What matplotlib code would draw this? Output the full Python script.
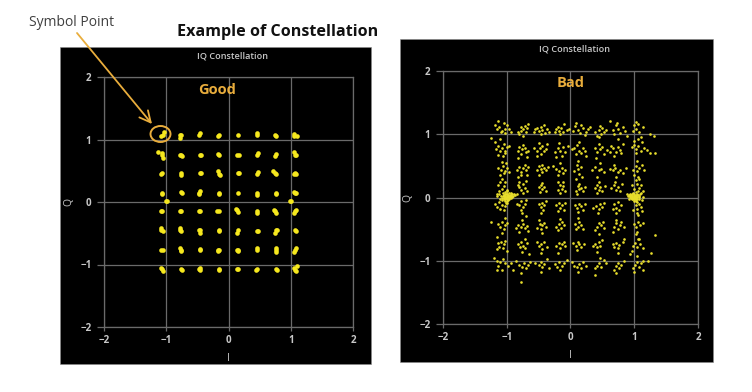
"""Good and bad IQ constellation examples, two dark scope panels side by side."""
import matplotlib.pyplot as plt
from matplotlib.patches import Ellipse, Rectangle

W, H = 752, 392
TICKS = [-2, -1, 0, 1, 2]
ORANGE = '#e9ad3c'
GRID = '#6a6a6a'
LIGHT = '#c8c8c8'

good_points = [
    # q ~ 1.07
    (-1.08, 1.06), (-1.06, 1.08), (-1.04, 1.12), (-0.78, 1.07), (-0.76, 1.08), (-0.78, 1.03),
    (-0.47, 1.07), (-0.45, 1.11), (-0.17, 1.06), (-0.15, 1.08), (0.15, 1.08), (0.46, 1.08), (0.45, 1.10),
    (0.75, 1.08), (0.77, 1.05), (1.06, 1.09), (1.05, 1.06), (1.10, 1.06),
    # q ~ 0.76
    (-1.07, 0.75), (-1.07, 0.79), (-1.06, 0.71), (-1.13, 0.80), (-0.76, 0.76), (-0.78, 0.75), (-0.75, 0.73),
    (-0.46, 0.76), (-0.44, 0.76), (-0.15, 0.76), (-0.17, 0.77), (0.14, 0.76), (0.17, 0.75),
    (0.46, 0.75), (0.47, 0.78), (0.76, 0.77), (0.75, 0.74), (1.07, 0.75), (1.09, 0.76), (1.05, 0.80),
    # q ~ 0.46
    (-1.07, 0.46), (-1.09, 0.45), (-0.77, 0.46), (-0.77, 0.43), (-0.46, 0.46), (-0.44, 0.46),
    (-0.16, 0.45), (-0.17, 0.49), (-0.14, 0.43), (0.15, 0.46), (0.17, 0.46), (0.45, 0.45), (0.48, 0.48),
    (0.77, 0.45), (0.75, 0.47), (0.71, 0.50), (1.07, 0.47), (1.05, 0.45), (1.09, 0.45),
    # q ~ 0.15
    (-1.07, 0.15), (-1.07, 0.13), (-0.77, 0.16), (-0.75, 0.15), (-0.47, 0.15), (-0.45, 0.17), (-0.48, 0.13),
    (-0.16, 0.15), (-0.15, 0.13), (0.15, 0.15), (0.46, 0.15), (0.46, 0.12), (0.76, 0.15), (0.76, 0.13),
    (1.07, 0.15), (1.05, 0.16), (1.09, 0.15),
    # on the Q = 0 line
    (-1.00, 0.01), (-0.99, 0.02), (0.99, 0.02), (1.01, 0.01),
    # q ~ -0.15
    (-1.08, -0.15), (-1.07, -0.14), (-0.78, -0.14), (-0.76, -0.15), (-0.47, -0.14), (-0.45, -0.14),
    (-0.16, -0.14), (-0.18, -0.14), (0.13, -0.13), (0.15, -0.16), (0.12, -0.11),
    (0.46, -0.14), (0.46, -0.17), (0.75, -0.14), (0.77, -0.17), (0.73, -0.12),
    (1.07, -0.14), (1.06, -0.17), (1.08, -0.13),
    # q ~ -0.46
    (-1.08, -0.45), (-1.06, -0.47), (-1.09, -0.42), (-0.78, -0.45), (-0.76, -0.46), (-0.78, -0.42),
    (-0.47, -0.45), (-0.45, -0.45), (-0.46, -0.49), (-0.16, -0.46), (-0.16, -0.44),
    (0.15, -0.45), (0.13, -0.49), (0.46, -0.46), (0.47, -0.46), (0.76, -0.45), (0.75, -0.49), (0.78, -0.44),
    (1.07, -0.45), (1.09, -0.47),
    # q ~ -0.77
    (-1.08, -0.76), (-1.05, -0.77), (-0.77, -0.76), (-0.76, -0.78), (-0.78, -0.73),
    (-0.46, -0.77), (-0.46, -0.75), (-0.17, -0.77), (-0.15, -0.76), (-0.17, -0.79),
    (0.14, -0.77), (0.16, -0.76), (0.15, -0.79), (0.46, -0.76), (0.46, -0.74), (0.76, -0.77), (0.76, -0.80),
    (0.77, -0.74), (1.07, -0.77), (1.08, -0.74), (1.06, -0.80),
    # q ~ -1.07
    (-1.09, -1.05), (-1.07, -1.07), (-1.06, -1.11), (-0.77, -1.07), (-0.75, -1.08),
    (-0.47, -1.07), (-0.45, -1.05), (-0.46, -1.08), (-0.16, -1.07), (-0.16, -1.09),
    (0.14, -1.07), (0.16, -1.07), (0.46, -1.07), (0.44, -1.08), (0.76, -1.07), (0.78, -1.09),
    (1.07, -1.08), (1.05, -1.06), (1.08, -1.10), (1.10, -1.03),
]

bad_points = [
    # top row
    (-1.14, 1.21), (-1.18, 1.14), (-1.15, 1.08), (-1.07, 1.05), (-1.03, 1.09), (-1.00, 1.15), (-1.04, 1.18),
    (-0.97, 1.08), (-0.94, 1.04), (-1.09, 1.03), (-1.12, 1.12), (-1.02, 1.02),
    (-0.80, 1.00), (-0.77, 1.05), (-0.74, 1.09), (-0.72, 1.13), (-0.77, 1.12), (-0.70, 1.04), (-0.67, 1.16),
    (-0.82, 1.03), (-0.75, 0.98), (-0.69, 1.10),
    (-0.58, 1.03), (-0.56, 1.08), (-0.50, 1.05), (-0.47, 1.12), (-0.44, 1.07), (-0.41, 1.14), (-0.37, 1.09),
    (-0.46, 1.00), (-0.52, 1.10), (-0.33, 1.03), (-0.40, 1.02),
    (-0.22, 1.08), (-0.20, 1.12), (-0.18, 1.05), (-0.15, 1.10), (-0.12, 1.03), (-0.10, 1.16), (-0.06, 1.06),
    (-0.24, 1.03), (-0.17, 1.00), (-0.03, 1.09),
    (0.04, 1.05), (0.07, 1.13), (0.09, 1.18), (0.12, 1.07), (0.15, 1.02), (0.19, 1.10), (0.24, 1.04), (0.27, 1.08),
    (0.30, 1.11), (0.17, 1.15), (0.22, 0.99),
    (0.38, 1.03), (0.42, 0.98), (0.45, 1.07), (0.48, 1.00), (0.50, 1.10), (0.53, 1.04), (0.56, 1.06), (0.47, 1.13),
    (0.44, 0.95),
    (0.62, 1.21), (0.67, 1.06), (0.71, 1.15), (0.75, 1.09), (0.78, 1.02), (0.82, 1.12), (0.73, 1.18), (0.85, 1.05),
    (0.68, 1.00), (0.88, 0.98),
    (1.00, 1.14), (1.03, 1.09), (1.06, 1.16), (1.08, 1.03), (1.02, 1.20), (1.13, 1.12), (0.98, 1.05), (1.11, 0.96),
    (1.24, 1.00), (1.31, 0.98),
    # q ~ 0.77
    (-1.24, 0.94), (-1.19, 0.87), (-1.14, 0.82), (-1.11, 0.73), (-1.08, 0.78), (-1.05, 0.85), (-1.02, 0.74),
    (-1.00, 0.80), (-0.96, 0.81), (-1.13, 0.67), (-1.06, 0.66), (-1.10, 0.92), (-1.17, 0.76), (-1.03, 0.70),
    (-0.83, 0.73), (-0.80, 0.80), (-0.76, 0.76), (-0.72, 0.79), (-0.70, 0.72), (-0.66, 0.74), (-0.78, 0.68),
    (-0.74, 0.83), (-0.69, 0.64), (-0.82, 0.62),
    (-0.57, 0.79), (-0.52, 0.74), (-0.48, 0.78), (-0.45, 0.82), (-0.42, 0.74), (-0.38, 0.77), (-0.53, 0.66),
    (-0.46, 0.68), (-0.37, 0.85), (-0.50, 0.86),
    (-0.24, 0.72), (-0.20, 0.79), (-0.16, 0.74), (-0.12, 0.80), (-0.08, 0.72), (-0.18, 0.86), (-0.13, 0.66),
    (-0.22, 0.64), (-0.04, 0.82),
    (0.02, 0.76), (0.06, 0.79), (0.10, 0.83), (0.13, 0.74), (0.16, 0.70), (0.19, 0.78), (0.08, 0.69), (0.14, 0.87),
    (0.23, 0.74), (0.24, 0.66),
    (0.38, 0.78), (0.42, 0.72), (0.46, 0.76), (0.50, 0.80), (0.53, 0.69), (0.40, 0.63), (0.58, 0.75), (0.44, 0.85),
    (0.62, 0.72), (0.63, 0.82), (0.66, 0.79), (0.71, 0.72), (0.74, 0.80), (0.78, 0.75), (0.82, 0.85), (0.68, 0.65),
    (0.80, 0.70), (0.74, 0.92),
    (0.97, 0.80), (1.00, 0.83), (1.03, 0.76), (1.06, 0.81), (1.10, 0.73), (1.02, 0.70), (1.15, 0.79), (1.20, 0.75),
    (1.12, 0.87), (1.25, 0.70), (1.33, 0.71), (1.06, 0.93), (0.99, 0.90),
    # q ~ 0.46
    (-1.13, 0.46), (-1.09, 0.44), (-1.06, 0.50), (-1.03, 0.42), (-1.00, 0.47), (-1.05, 0.38), (-1.01, 0.54),
    (-1.08, 0.56), (-1.11, 0.36), (-0.97, 0.40),
    (-0.84, 0.44), (-0.80, 0.48), (-0.77, 0.41), (-0.74, 0.46), (-0.70, 0.43), (-0.66, 0.49), (-0.78, 0.36),
    (-0.72, 0.52), (-0.83, 0.33), (-0.68, 0.36),
    (-0.52, 0.44), (-0.49, 0.50), (-0.46, 0.45), (-0.44, 0.40), (-0.42, 0.47), (-0.38, 0.44), (-0.50, 0.36),
    (-0.45, 0.52), (-0.35, 0.48),
    (-0.22, 0.45), (-0.18, 0.42), (-0.14, 0.47), (-0.12, 0.38), (-0.09, 0.44), (-0.20, 0.35), (-0.16, 0.54),
    (-0.27, 0.50),
    (0.06, 0.42), (0.10, 0.52), (0.12, 0.45), (0.14, 0.37), (0.16, 0.48), (0.11, 0.58), (0.18, 0.32), (0.09, 0.30),
    (0.34, 0.44), (0.39, 0.48), (0.44, 0.43), (0.48, 0.45), (0.52, 0.40), (0.42, 0.33), (0.46, 0.55),
    (0.62, 0.45), (0.66, 0.43), (0.70, 0.47), (0.74, 0.41), (0.78, 0.44), (0.82, 0.38), (0.72, 0.33), (0.68, 0.52),
    (0.87, 0.47),
    (0.98, 0.44), (1.02, 0.50), (1.04, 0.42), (1.08, 0.47), (1.12, 0.52), (1.00, 0.36), (1.06, 0.33), (1.15, 0.44),
    (1.04, 0.57),
    # q ~ 0.15
    (-1.13, 0.20), (-1.10, 0.24), (-1.08, 0.14), (-1.05, 0.18), (-1.12, 0.10), (-1.03, 0.24), (-1.07, 0.30),
    (-1.00, 0.12), (-1.15, 0.06),
    (-0.80, 0.17), (-0.77, 0.12), (-0.75, 0.22), (-0.72, 0.15), (-0.70, 0.26), (-0.74, 0.07), (-0.69, 0.10),
    (-0.83, 0.20), (-0.80, 0.25),
    (-0.50, 0.16), (-0.47, 0.19), (-0.45, 0.13), (-0.42, 0.17), (-0.48, 0.09), (-0.44, 0.23), (-0.39, 0.11),
    (-0.20, 0.12), (-0.17, 0.20), (-0.14, 0.14), (-0.11, 0.18), (-0.08, 0.10), (-0.16, 0.07), (-0.19, 0.24),
    (-0.12, 0.25),
    (0.08, 0.10), (0.11, 0.18), (0.13, 0.13), (0.16, 0.15), (0.19, 0.11), (0.14, 0.22), (0.23, 0.17), (0.10, 0.05),
    (0.38, 0.15), (0.42, 0.20), (0.44, 0.12), (0.47, 0.16), (0.50, 0.10), (0.45, 0.24), (0.54, 0.18), (0.41, 0.07),
    (0.64, 0.15), (0.68, 0.19), (0.72, 0.12), (0.75, 0.17), (0.78, 0.10), (0.70, 0.24), (0.81, 0.22),
    (0.97, 0.19), (1.00, 0.14), (1.04, 0.22), (1.07, 0.15), (1.10, 0.20), (1.02, 0.28), (1.13, 0.10), (1.08, 0.29),
    # dense spot at I = -1
    (-1.12, 0.06), (-1.09, 0.03), (-1.06, 0.07), (-1.03, 0.02), (-1.01, 0.05), (-0.98, 0.01), (-0.95, 0.04),
    (-1.05, -0.01), (-1.02, -0.03), (-0.99, -0.02), (-0.96, -0.01), (-0.93, 0.02), (-1.00, 0.03), (-1.03, 0.08),
    (-0.97, 0.07), (-1.07, -0.04), (-0.90, 0.03), (-0.87, 0.04), (-0.84, 0.05), (-1.01, 0.00), (-0.98, 0.04),
    (-1.04, 0.04), (-0.94, -0.01), (-0.99, -0.06), (-1.01, -0.08), (-0.92, 0.06), (-1.10, -0.02), (-1.15, 0.02),
    (-1.00, 0.10), (-1.02, 0.01), (-0.96, 0.02), (-1.05, 0.02), (-1.04, -0.02), (-1.00, 0.01), (-0.97, -0.03),
    (-0.95, 0.01), (-0.93, 0.04), (-0.91, 0.01), (-1.02, 0.06), (-0.99, 0.05), (-1.06, 0.03), (-1.08, 0.00),
    (-0.94, 0.07), (-1.03, -0.05), (-0.98, -0.04), (-0.89, 0.05),
    # dense spot at I = 1
    (0.90, 0.03), (0.93, 0.01), (0.95, 0.04), (0.97, -0.01), (0.99, 0.02), (1.01, 0.00), (1.03, 0.03), (1.05, -0.02),
    (1.00, 0.05), (0.98, 0.07), (1.02, -0.03), (1.04, 0.06), (1.07, 0.02), (1.09, 0.05), (0.96, -0.03), (0.94, 0.06),
    (1.00, -0.05), (1.03, 0.09), (1.08, -0.03), (1.11, 0.07), (1.13, 0.01), (0.99, -0.01), (1.01, 0.03), (0.97, 0.02),
    (0.88, 0.05), (1.06, 0.10), (1.02, 0.01), (0.92, -0.02), (1.05, -0.07), (1.12, -0.04), (0.94, 0.02), (0.96, 0.01),
    (0.98, -0.03), (1.00, 0.01), (1.02, 0.04), (1.04, 0.01), (1.06, 0.04), (0.95, -0.01), (0.97, 0.05), (1.01, -0.02),
    (1.03, -0.05), (0.99, 0.04), (1.08, 0.01), (0.92, 0.04),
    # q ~ -0.15
    (-1.18, -0.10), (-1.15, -0.15), (-1.12, -0.07), (-1.10, -0.18), (-1.08, -0.12), (-1.05, -0.20), (-1.03, -0.13),
    (-1.00, -0.08),
    (-0.84, -0.10), (-0.80, -0.12), (-0.77, -0.06), (-0.74, -0.15), (-0.72, -0.10), (-0.78, -0.20), (-0.70, -0.04),
    (-0.76, -0.25),
    (-0.50, -0.10), (-0.47, -0.15), (-0.45, -0.08), (-0.43, -0.19), (-0.41, -0.12), (-0.46, -0.24), (-0.39, -0.05),
    (-0.22, -0.12), (-0.18, -0.08), (-0.16, -0.17), (-0.13, -0.12), (-0.10, -0.19), (-0.08, -0.09), (-0.19, -0.22),
    (0.07, -0.12), (0.10, -0.17), (0.13, -0.10), (0.16, -0.14), (0.19, -0.20), (0.12, -0.23), (0.22, -0.10),
    (0.36, -0.17), (0.40, -0.13), (0.44, -0.18), (0.47, -0.11), (0.50, -0.15), (0.43, -0.25), (0.53, -0.08),
    (0.68, -0.10), (0.71, -0.16), (0.74, -0.07), (0.76, -0.20), (0.72, -0.24), (0.66, -0.18), (0.80, -0.12),
    (1.02, -0.12), (1.05, -0.18), (1.07, -0.10), (1.10, -0.15), (1.04, -0.24), (1.12, -0.22), (0.98, -0.20),
    # q ~ -0.46
    (-1.24, -0.39), (-1.13, -0.42), (-1.10, -0.46), (-1.08, -0.38), (-1.05, -0.50), (-1.02, -0.44), (-1.00, -0.40),
    (-1.07, -0.56), (-1.15, -0.62), (-1.03, -0.33),
    (-0.86, -0.48), (-0.82, -0.44), (-0.78, -0.47), (-0.75, -0.42), (-0.72, -0.48), (-0.68, -0.45), (-0.76, -0.35),
    (-0.80, -0.54), (-0.70, -0.30), (-0.66, -0.53),
    (-0.52, -0.48), (-0.48, -0.42), (-0.46, -0.50), (-0.44, -0.44), (-0.41, -0.40), (-0.38, -0.47), (-0.50, -0.36),
    (-0.44, -0.56),
    (-0.22, -0.46), (-0.18, -0.42), (-0.15, -0.48), (-0.13, -0.38), (-0.10, -0.44), (-0.17, -0.34), (-0.20, -0.52),
    (0.07, -0.42), (0.11, -0.46), (0.14, -0.38), (0.16, -0.44), (0.19, -0.50), (0.12, -0.33), (0.08, -0.50),
    (0.38, -0.52), (0.42, -0.47), (0.45, -0.40), (0.48, -0.44), (0.51, -0.38), (0.44, -0.57), (0.53, -0.48),
    (0.68, -0.46), (0.71, -0.41), (0.74, -0.50), (0.77, -0.44), (0.80, -0.38), (0.72, -0.35), (0.66, -0.55),
    (0.84, -0.47),
    (1.00, -0.42), (1.03, -0.46), (1.06, -0.38), (1.09, -0.44), (1.02, -0.58), (1.05, -0.54), (1.13, -0.40),
    (1.06, -0.27), (1.08, -0.65), (1.33, -0.60),
    # q ~ -0.77
    (-1.14, -0.72), (-1.12, -0.78), (-1.09, -0.70), (-1.06, -0.80), (-1.04, -0.74), (-1.02, -0.69), (-1.00, -0.85),
    (-1.16, -0.82),
    (-0.82, -0.73), (-0.79, -0.78), (-0.77, -0.70), (-0.74, -0.76), (-0.71, -0.80), (-0.68, -0.72), (-0.76, -0.86),
    (-0.65, -0.90), (-0.72, -0.65),
    (-0.52, -0.70), (-0.49, -0.76), (-0.46, -0.74), (-0.44, -0.82), (-0.41, -0.71), (-0.47, -0.88), (-0.37, -0.78),
    (-0.22, -0.77), (-0.18, -0.72), (-0.16, -0.80), (-0.13, -0.74), (-0.10, -0.70), (-0.08, -0.76), (-0.19, -0.87),
    (0.04, -0.72), (0.08, -0.76), (0.11, -0.70), (0.14, -0.74), (0.17, -0.78), (0.21, -0.73), (0.10, -0.83),
    (0.36, -0.77), (0.39, -0.73), (0.42, -0.79), (0.45, -0.71), (0.47, -0.76), (0.50, -0.67), (0.41, -0.86),
    (0.66, -0.74), (0.69, -0.78), (0.71, -0.72), (0.74, -0.80), (0.76, -0.75), (0.82, -0.70), (0.84, -0.66),
    (0.74, -0.88),
    (0.98, -0.76), (1.01, -0.72), (1.04, -0.78), (1.06, -0.66), (1.09, -0.74), (1.13, -0.80), (0.97, -0.85),
    (0.93, -0.90), (1.04, -0.92),
    # bottom row
    (-1.20, -0.96), (-1.15, -1.00), (-1.10, -1.02), (-1.06, -0.98), (-1.02, -1.03), (-1.13, -1.09), (-1.08, -1.14),
    (-0.98, -1.08), (-0.93, -1.03), (-0.90, -1.15), (-1.16, -1.14),
    (-0.85, -1.00), (-0.80, -1.06), (-0.76, -1.10), (-0.73, -1.04), (-0.70, -1.12), (-0.67, -1.07), (-0.78, -1.20),
    (-0.78, -1.33), (-0.64, -1.02),
    (-0.55, -1.04), (-0.50, -1.07), (-0.46, -1.02), (-0.44, -1.10), (-0.41, -1.05), (-0.37, -0.98), (-0.46, -1.18),
    (-0.34, -1.12),
    (-0.25, -1.05), (-0.21, -1.10), (-0.18, -1.02), (-0.14, -1.08), (-0.10, -1.03), (-0.06, -0.99), (-0.17, -1.14),
    (0.02, -1.02), (0.06, -1.08), (0.10, -1.10), (0.13, -1.05), (0.16, -1.12), (0.20, -1.02), (0.12, -1.18),
    (0.24, -1.08),
    (0.38, -1.12), (0.42, -1.08), (0.45, -1.03), (0.48, -1.10), (0.52, -0.99), (0.56, -1.04), (0.38, -1.22),
    (0.47, -0.95),
    (0.68, -1.15), (0.71, -1.08), (0.74, -1.03), (0.76, -1.12), (0.79, -1.06), (0.72, -1.20), (0.84, -1.00),
    (0.98, -1.12), (1.01, -1.06), (1.04, -1.02), (1.07, -1.10), (1.10, -1.03), (1.14, -1.00), (1.00, -1.18),
    (1.13, -1.15), (1.21, -1.00), (1.27, -0.88),
]


def frac(px, py):
    # pixel position in the image to figure fraction
    return px / W, 1 - py / H


def panel(fig, box, plot_box, points, size, color, title_y):
    x0, y0, x1, y1 = box
    # zorder below the axes, figure artists otherwise paint over them
    fig.add_artist(Rectangle(frac(x0, y1), (x1 - x0) / W, (y1 - y0) / H, transform=fig.transFigure,
                             facecolor='black', edgecolor='#8a8a8a', linewidth=0.4, zorder=-1))
    px0, py0, px1, py1 = plot_box
    ax = fig.add_axes([px0 / W, 1 - py1 / H, (px1 - px0) / W, (py1 - py0) / H], facecolor='none')
    ax.set_xlim(-2, 2)
    ax.set_ylim(-2, 2)
    ax.set_xticks(TICKS, [str(t).replace('-', '\u2212') for t in TICKS])
    ax.set_yticks(TICKS, [str(t).replace('-', '\u2212') for t in TICKS])
    ax.grid(True, color=GRID, linewidth=0.9)
    ax.set_axisbelow(True)
    ax.tick_params(axis='x', colors=LIGHT, labelsize=7, length=3, width=0.9, color=GRID, pad=3)
    ax.tick_params(axis='y', colors=LIGHT, labelsize=7, length=5, width=0.9, color=GRID, pad=4)
    for lab in ax.get_xticklabels() + ax.get_yticklabels():
        lab.set_fontweight('bold')
    for s in ax.spines.values():
        s.set_color(GRID)
        s.set_linewidth(0.9)
    ax.scatter([p[0] for p in points], [p[1] for p in points], s=size, color=color, linewidths=0, zorder=3)
    ax.set_xlabel('I', color=LIGHT, fontsize=7.5, labelpad=5)
    ax.set_ylabel('Q', color=LIGHT, fontsize=7.5, labelpad=4)
    fig.text(*frac((px0 + px1) / 2 + 4, title_y), 'IQ Constellation', color=LIGHT, fontsize=6.6,
             fontweight='semibold', ha='center', va='center')
    return ax


def main():
    plt.rcParams['font.family'] = ['Open Sans', 'DejaVu Sans']
    fig = plt.figure(figsize=(W / 100, H / 100), dpi=100, facecolor='white')

    panel(fig, (60, 47, 371, 364), (104, 77, 353, 327), good_points, 11, '#f6e81e', 56)
    panel(fig, (400, 39, 713, 362), (443, 71, 698, 324), bad_points, 3.6, '#e8de2c', 49)

    fig.text(*frac(278, 32), 'Example of Constellation', color='#111111', fontsize=11.6,
             fontweight='bold', ha='center', va='center')
    fig.text(*frac(72, 22), 'Symbol Point', color='#404040', fontsize=10, ha='center', va='center')
    fig.text(*frac(217.5, 90), 'Good', color=ORANGE, fontsize=10.5, fontweight='bold', ha='center', va='center')
    fig.text(*frac(571, 83), 'Bad', color=ORANGE, fontsize=10.5, fontweight='bold', ha='center', va='center')

    # arrow from the label down to the circled symbol
    fig.add_artist(plt.Annotation('', xy=frac(152, 124), xytext=frac(77, 33), xycoords='figure fraction',
                                  textcoords='figure fraction',
                                  arrowprops=dict(arrowstyle='->,head_length=0.8,head_width=0.4',
                                                  color=ORANGE, linewidth=1.3, shrinkA=0, shrinkB=0)))
    fig.add_artist(Ellipse(frac(160.5, 134), 20 / W, 16 / H, transform=fig.transFigure,
                           facecolor='none', edgecolor=ORANGE, linewidth=1.4))

    fig.savefig('out.png', dpi=100)


if __name__ == '__main__':
    main()
